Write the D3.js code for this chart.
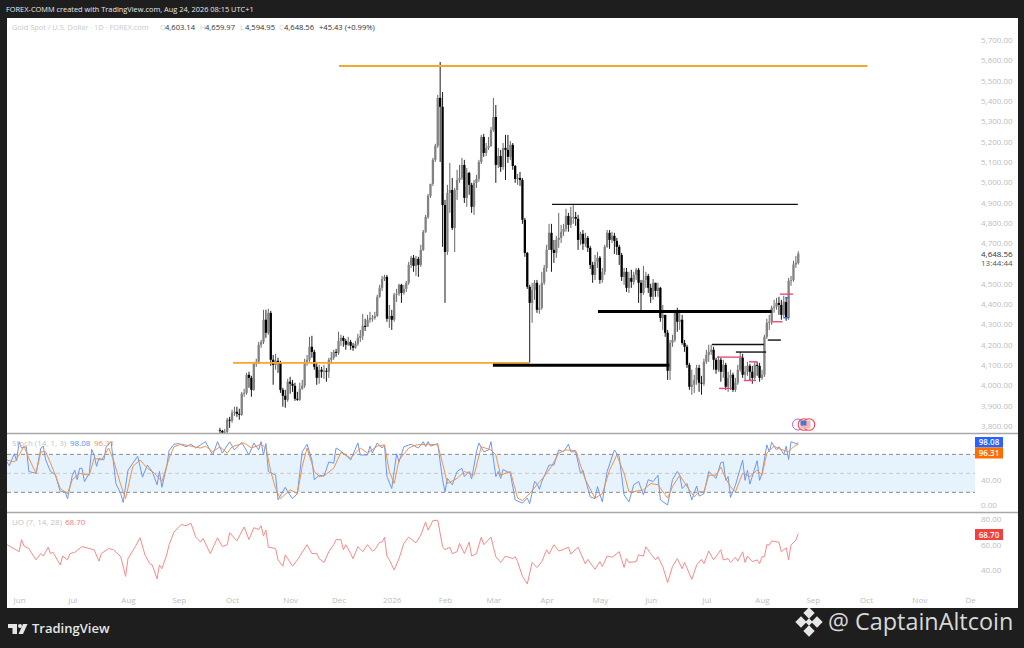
<!DOCTYPE html>
<html><head><meta charset="utf-8">
<script src="https://cdn.jsdelivr.net/npm/d3@7"></script>
<style>html,body{margin:0;padding:0;background:#1e1e1e}svg{display:block}text{font-family:"Open Sans",sans-serif}</style>
</head><body><svg id="c" width="1024" height="648"></svg>
<script>
// ---------- Candles: one entry per daily bar ----------
const closes=[3776,3767,3772,3831,3826,3865,3870,3860,3855,3959,
3963,4052,4037,3978,4106,4116,4200,4214,4323,4259,
4357,4126,4101,4121,4111,3978,3949,3929,4018,4008,
3998,3934,3929,3983,3998,4116,4126,4190,4165,4091,
4037,4077,4067,4072,4067,4126,4136,4165,4160,4219,
4234,4219,4200,4214,4195,4185,4205,4234,4244,4293,
4288,4323,4332,4332,4342,4436,4480,4524,4534,4328,
4342,4323,4446,4451,4495,4455,4475,4505,4593,4628,
4588,4623,4593,4667,4756,4829,4933,4992,5110,5179,
5415,5371,4888,4657,4947,4962,4775,4962,5011,5021,
5085,4923,5046,4987,4879,4997,5016,5100,5223,5144,
5169,5179,5257,5321,5085,5129,5075,5169,5159,5125,
5184,5080,5016,5021,5011,4815,4652,4485,4406,4470,
4505,4372,4382,4505,4578,4667,4751,4667,4652,4716,
4726,4756,4770,4834,4790,4829,4829,4820,4716,4746,
4697,4726,4677,4593,4544,4608,4628,4519,4559,4682,
4751,4716,4736,4711,4682,4642,4534,4559,4480,4529,
4510,4544,4569,4505,4455,4519,4539,4480,4436,4505,
4465,4480,4332,4347,4259,4072,4209,4224,4357,4313,
4323,4209,4190,4101,3993,4003,4027,4086,4013,4008,
4116,4150,4165,4175,4126,4077,4126,4067,4101,3993,
4037,4052,3978,4013,4077,4136,4052,4067,4096,4067,
4037,4101,4096,4037,4052,4239,4308,4313,4382,4387,
4406,4396,4347,4411,4332,4515,4519,4595,4603.14,4648.56];
const highs=[3791,3781,3786,3840,3845,3880,3895,3895,3885,3968,
3983,4062,4067,4047,4116,4131,4214,4224,4372,4372,
4377,4367,4150,4155,4136,4121,3988,3978,4032,4042,
4027,4013,3968,4013,4027,4131,4150,4239,4244,4175,
4116,4101,4091,4101,4086,4136,4165,4175,4180,4264,
4249,4244,4229,4239,4224,4209,4219,4254,4273,4352,
4328,4347,4362,4347,4362,4446,4495,4539,4544,4544,
4396,4372,4455,4475,4500,4500,4495,4514,4608,4637,
4642,4637,4633,4692,4765,4839,4942,4992,5120,5189,
5430,5592,5444,4913,4987,5095,5021,4972,5061,5085,
5120,5110,5070,5051,4997,5011,5036,5110,5233,5238,
5193,5223,5272,5415,5380,5169,5159,5193,5233,5233,
5203,5193,5085,5041,5051,5021,4824,4657,4495,4505,
4519,4519,4495,4559,4593,4692,4795,4795,4716,4736,
4849,4790,4795,4869,4849,4879,4888,4854,4839,4756,
4765,4751,4736,4687,4608,4642,4657,4637,4578,4692,
4765,4765,4756,4751,4726,4692,4652,4578,4578,4559,
4569,4559,4578,4578,4519,4588,4559,4549,4500,4524,
4500,4505,4485,4396,4347,4273,4224,4249,4372,4382,
4372,4347,4224,4200,4111,4077,4052,4101,4101,4047,
4131,4175,4200,4200,4190,4136,4145,4136,4126,4111,
4067,4077,4062,4037,4101,4165,4155,4096,4116,4106,
4096,4116,4116,4111,4077,4249,4328,4347,4392,4421,
4431,4436,4421,4441,4431,4529,4539,4613,4637,4659.97];
const lows=[3752,3742,3747,3762,3791,3816,3850,3845,3831,3850,
3944,3954,3988,3944,3973,4091,4106,4185,4204,4234,
4249,4096,4003,4077,4062,3963,3895,3890,3919,3959,
3968,3924,3924,3924,3978,3988,4096,4116,4136,4077,
4003,4008,4037,4032,4018,4037,4106,4126,4141,4150,
4195,4190,4175,4195,4175,4170,4180,4195,4214,4224,
4268,4288,4308,4313,4323,4337,4431,4465,4514,4313,
4283,4273,4313,4411,4441,4406,4446,4460,4495,4578,
4559,4539,4534,4583,4662,4751,4820,4923,4982,5100,
5169,5100,4682,4406,4642,4849,4765,4657,4913,4997,
5011,4898,4879,4938,4849,4839,4972,5002,5090,5125,
5129,5159,5174,5248,4997,5070,5051,5061,5011,5095,
5110,5061,4997,4987,4982,4795,4633,4475,4111,4308,
4421,4357,4352,4372,4495,4559,4667,4559,4603,4628,
4677,4701,4736,4756,4756,4775,4795,4785,4667,4692,
4667,4682,4657,4573,4505,4519,4578,4500,4505,4544,
4677,4672,4701,4647,4642,4593,4514,4495,4460,4455,
4480,4495,4519,4406,4362,4446,4480,4455,4406,4421,
4436,4436,4313,4273,4239,4027,4027,4190,4214,4264,
4273,4200,4165,4086,3978,3954,3963,4003,3968,3954,
3998,4106,4116,4150,4077,4057,4067,4018,4037,3978,
3968,3978,3968,3968,4003,4067,4037,4027,4047,4022,
4008,4027,4047,4018,4027,4042,4229,4273,4298,4357,
4372,4347,4323,4337,4318,4323,4490,4510,4578,4594.95];
const firstOpen=3780, lastOpen=4603.14, firstCandleBar=88, lastBar=327;

// ---------- Indicator vertices: [bar, value] ----------
const stochK=[[0,68],[1,62],[3,81],[4,70],[5,100],[6,90],[8,92],[9,53],[12,50],[14,90],[15,93],[16,71],[18,53],[20,48],[22,21],[24,21],[25,10],[27,47],[28,55],[29,40],[30,58],[31,58],[32,37],[34,50],[35,88],[36,79],[37,61],[38,74],[40,71],[41,92],[43,100],[45,34],[47,18],[48,4],[50,55],[52,66],[54,77],[56,44],[58,63],[60,53],[62,32],[63,53],[64,28],[66,61],[67,86],[69,96],[71,97],[74,92],[76,96],[78,90],[82,100],[85,79],[87,100],[89,82],[92,100],[94,87],[97,99],[100,79],[102,98],[104,87],[105,100],[106,79],[107,97],[108,53],[111,47],[112,8],[115,28],[116,21],[118,10],[120,18],[122,84],[124,96],[126,71],[127,40],[129,47],[131,46],[133,68],[135,66],[136,90],[138,85],[140,79],[142,71],[145,98],[146,79],[149,79],[150,93],[151,82],[153,98],[155,90],[156,95],[157,45],[159,26],[161,81],[162,68],[164,92],[167,96],[170,90],[172,100],[173,92],[174,100],[175,93],[178,97],[180,40],[181,21],[182,42],[184,32],[186,53],[188,58],[189,45],[191,53],[192,41],[194,84],[195,98],[197,84],[199,87],[200,100],[202,45],[203,53],[204,42],[205,56],[208,50],[210,8],[213,3],[215,11],[216,2],[218,37],[219,34],[220,25],[221,37],[224,63],[226,63],[228,87],[230,84],[232,96],[233,84],[235,84],[237,50],[238,55],[241,13],[243,10],[244,29],[246,5],[248,53],[251,87],[253,76],[255,16],[257,5],[259,32],[261,37],[263,16],[265,40],[267,37],[269,47],[270,8],[273,0],[275,40],[277,53],[278,47],[279,26],[281,34],[283,8],[285,30],[286,14],[288,18],[290,53],[293,42],[295,67],[296,68],[297,39],[298,45],[299,12],[301,31],[304,71],[305,39],[306,55],[307,33],[310,70],[311,39],[312,50],[314,95],[315,84],[316,99],[318,87],[319,92],[321,80],[322,93],[323,72],[324,100],[326,97],[327,98.08]];
const stochD=[[0,71],[3,68],[5,79],[7,93],[9,74],[12,50],[14,84],[16,84],[18,66],[20,47],[22,26],[25,18],[27,40],[30,50],[34,47],[36,74],[39,71],[42,90],[44,71],[47,32],[49,10],[52,61],[55,71],[58,58],[61,50],[64,37],[67,74],[69,92],[72,96],[76,93],[80,90],[82,93],[85,84],[88,92],[91,82],[93,92],[98,98],[101,90],[105,96],[107,90],[109,53],[111,26],[113,10],[117,24],[120,18],[122,61],[124,90],[127,53],[129,45],[131,46],[135,58],[138,83],[142,74],[144,82],[146,90],[149,82],[153,93],[156,95],[158,53],[160,34],[162,71],[166,90],[169,95],[174,96],[178,95],[180,66],[182,34],[186,42],[189,53],[193,47],[196,92],[200,87],[202,79],[204,47],[208,53],[211,11],[213,7],[216,18],[219,32],[222,45],[225,61],[228,82],[231,87],[235,86],[239,40],[243,11],[246,18],[249,55],[252,79],[255,50],[257,21],[259,21],[263,24],[266,34],[269,32],[273,11],[275,29],[278,47],[281,29],[284,13],[286,21],[288,21],[290,47],[293,47],[295,60],[297,42],[299,29],[301,21],[304,50],[307,45],[310,55],[312,47],[314,82],[317,93],[319,89],[323,84],[325,92],[327,96.31]];
const uo=[[0,60],[5,54.5],[6,64],[7,59],[9,57],[11,51],[12,48],[14,53],[15,51],[17,58],[18,53],[19,54],[22,44],[23,51],[25,48],[26,53],[28,54],[31,58.5],[36,56],[38,47],[39,53],[42,57],[44,56],[47,50.5],[49,35],[50,49],[53,58.5],[55,65.5],[57,52],[59,45],[60,44],[62,33],[63,44],[64,41],[66,52],[67,60],[69,70],[72,76],[74,75],[76,77],[78,66],[80,62],[81,65],[84,53],[87,65.5],[89,58.5],[91,60],[92,69.5],[95,63],[98,74],[100,64],[102,73.4],[104,72],[105,75],[106,67],[107,71.5],[108,58],[111,57],[112,48],[114,43],[115,52],[116,49],[118,43],[120,48],[124,60],[126,53],[128,53],[129,49],[131,46],[133,54.5],[135,60],[136,64],[138,64],[139,56],[140,60],[142,53],[143,49],[145,58.5],[147,54.5],[149,60],[151,55],[152,56],[154,62],[155,62],[156,66],[157,51],[158,48],[160,40],[162,49],[164,61],[166,66],[169,61.5],[171,67.6],[173,78],[174,71.5],[176,79],[178,79.4],[180,58.5],[181,56],[183,58],[184,53],[186,54.5],[187,61],[189,53],[191,62],[192,51],[194,53],[196,66],[197,60],[200,66],[202,50.5],[204,46],[206,51],[209,49],[210,50.5],[211,46.6],[213,35],[215,29],[217,46],[219,42],[221,46.6],[223,56],[224,52.6],[226,60],[228,55],[230,56.3],[232,58],[233,52.6],[236,58],[239,44.8],[240,48.4],[243,40.6],[245,46.6],[246,42.7],[248,51],[250,50],[253,54.5],[255,42],[256,49],[257,46],[260,46.6],[261,52],[263,51],[264,58.4],[266,53],[268,48],[269,50.5],[271,42.7],[273,30],[275,42.7],[277,49],[278,45],[279,41],[280,46],[283,32.6],[285,44],[287,48.4],[288,45],[290,55],[292,48],[295,56],[296,48],[298,49],[299,46],[301,50],[302,47],[304,54.4],[305,46],[306,51],[308,46.6],[310,48],[311,45],[312,50.5],[313,50.5],[314,60],[315,59.7],[316,63],[319,62],[320,54.4],[322,57.6],[323,48],[324,59.7],[326,63.6],[327,68.7]];

// ---------- Axis labels ----------
const priceTicks=[5700,5600,5500,5400,5300,5200,5100,5000,4900,4800,4700,4500,4400,4300,4200,4100,4000,3900,3800];
const stochTicks=[40,0];
const uoTicks=[80,60,40];
const timeBars=[5,27,50,71,93,117,137,159,181,201,223,245,266,289,312,333,355,377,398];
const timeLabels=["Jun","Jul","Aug","Sep","Oct","Nov","Dec","2026","Feb","Mar","Apr","May","Jun","Jul","Aug","Sep","Oct","Nov","De"];

// ---------- Drawn levels: [fromBar, toBar, price] ----------
const orangeLevels=[[137.2,355.5,5572],[93.4,216,4111]];
const blackThick=[[200.8,273.7,4099],[244.2,316,4364]];
const blackThin=[[225.2,326.8,4891],[291.3,312.8,4201],[301.2,313.7,4164],[314.4,319.8,4223]];
const pinkLevels=[[293.4,303.8,4139],[294.2,299.6,3985],[306.6,310,4116],[304.5,309.5,4024],[316,320.5,4313],[319.4,324.8,4449]];
const blueLevels=[[321.5,323,4431],[320.8,323,4333]];

// ---------- Scales ----------
const svg=d3.select("#c");
const x=d3.scaleLinear().domain([0,lastBar]).range([7,798.3]);
const yP=d3.scaleLinear().domain([3800,5700]).range([426,40]);
const yS=d3.scaleLinear().domain([0,100]).range([505,441.7]);
const yU=d3.scaleLinear().domain([40,80]).range([570,519.4]);
const gray="#bdbdbd", font="8px";

svg.append("rect").attr("width",1024).attr("height",648).attr("fill","#1e1e1e");
svg.append("rect").attr("x",7).attr("y",18).attr("width",1011).attr("height",590).attr("fill","#fff");
svg.append("defs").append("clipPath").attr("id","pp").append("rect").attr("x",7).attr("y",18).attr("width",968).attr("height",415);

// ---------- Candles ----------
const candles=closes.map((c,i)=>{const o=i===0?firstOpen:(i===closes.length-1?lastOpen:closes[i-1]);
  return {b:i+firstCandleBar,o,c,h:Math.max(highs[i],o,c),l:Math.min(lows[i],o,c)};});
const cg=svg.append("g").attr("clip-path","url(#pp)");
const col=d=>d.c>=d.o?"#828282":"#000";
cg.selectAll("line.w").data(candles).join("line").attr("class","w")
  .attr("x1",d=>x(d.b)).attr("x2",d=>x(d.b)).attr("y1",d=>yP(d.h)).attr("y2",d=>yP(d.l))
  .attr("stroke",d=>d.c>=d.o?"#666":"#1a1a1a").attr("stroke-width",1);
cg.selectAll("rect.b").data(candles).join("rect").attr("class","b")
  .attr("x",d=>x(d.b)-1.15).attr("width",2.3)
  .attr("y",d=>Math.min(yP(d.o),yP(d.c))).attr("height",d=>Math.max(.8,Math.abs(yP(d.o)-yP(d.c))))
  .attr("fill",col);

// ---------- Levels ----------
function levels(data,color,w){
  cg.selectAll(null).data(data).join("line").attr("x1",d=>x(d[0])).attr("x2",d=>x(d[1]))
    .attr("y1",d=>yP(d[2])).attr("y2",d=>yP(d[2])).attr("stroke",color).attr("stroke-width",w);
}
levels(orangeLevels,"#f7a72b",1.8);
levels(blackThick,"#000",3);
levels(blackThin,"#111",1.4);
levels(pinkLevels,"#ec4a72",1.4);
levels(blueLevels,"#2962ff",1.4);

// ---------- Event icons ----------
const ev=svg.append("g");
ev.append("circle").attr("cx",798).attr("cy",424.5).attr("r",5.5).attr("fill","#fff").attr("stroke","#b45fd6").attr("stroke-width",1);
[804,809].forEach(cx=>ev.append("circle").attr("cx",cx).attr("cy",424.5).attr("r",5.8).attr("fill","#fff").attr("stroke","#f0424d").attr("stroke-width",1.1));
ev.append("rect").attr("x",800.5).attr("y",420.5).attr("width",10).attr("height",8).attr("fill","#f6b3b8");
ev.append("rect").attr("x",800.5).attr("y",420.5).attr("width",6).attr("height",5).attr("fill","#4a78c8");

// ---------- Panes ----------
svg.append("rect").attr("x",7).attr("width",968).attr("y",yS(80)).attr("height",yS(20)-yS(80)).attr("fill","#e6f3fd");
[[80,"#8a8a8a"],[50,"#c9c9c9"],[20,"#8a8a8a"]].forEach(([v,s])=>svg.append("line").attr("x1",7).attr("x2",975).attr("y1",yS(v)).attr("y2",yS(v)).attr("stroke",s).attr("stroke-dasharray","4 3").attr("stroke-width",1));
[433.5,512.5].forEach(y=>svg.append("line").attr("x1",7).attr("x2",1018).attr("y1",y).attr("y2",y).attr("stroke","#a8a8a8").attr("stroke-width",1.4));
const line=(yy)=>d3.line().x(d=>x(d[0])).y(d=>yy(d[1]));
svg.append("path").attr("d",line(yS)(stochK)).attr("fill","none").attr("stroke","#6c97f6").attr("stroke-width",1);
svg.append("path").attr("d",line(yS)(stochD)).attr("fill","none").attr("stroke","#f2924a").attr("stroke-width",1);
svg.append("path").attr("d",line(yU)(uo)).attr("fill","none").attr("stroke","#f78a8a").attr("stroke-width",1);

// ---------- Axes ----------
function styleAxis(g){g.select(".domain").remove();g.selectAll(".tick line").remove();
  g.selectAll("text").attr("fill",gray).style("font-size",font).style("font-family",'"Open Sans",sans-serif');}
const fmt=d3.format(",.2f");
svg.append("g").attr("transform","translate(981,0)").call(d3.axisRight(yP).tickValues(priceTicks).tickFormat(fmt).tickSize(0).tickPadding(0)).call(styleAxis);
svg.append("g").attr("transform","translate(981,0)").call(d3.axisRight(yS).tickValues(stochTicks).tickFormat(fmt).tickSize(0).tickPadding(0)).call(styleAxis);
svg.append("g").attr("transform","translate(981,0)").call(d3.axisRight(yU).tickValues(uoTicks).tickFormat(fmt).tickSize(0).tickPadding(0)).call(styleAxis);
svg.append("g").attr("transform","translate(0,597)").call(d3.axisBottom(x).tickValues(timeBars).tickFormat((d,i)=>timeLabels[i]).tickSize(0).tickPadding(0)).call(styleAxis);

// ---------- Text ----------
function t(s,xx,yy,c,sz,w,a){return svg.append("text").attr("x",xx).attr("y",yy).attr("fill",c).style("font-size",(sz||8)+"px").style("font-weight",w||400).attr("text-anchor",a||"start").text(s);}
t("FOREX-COMM created with TradingView.com, Aug 24, 2026 08:15 UTC+1",6,12,"#e8e8e8",7.4);
t("Gold Spot / U.S. Dollar · 1D · FOREX.com",12,30,"#c9c9c9",7.4);
[["O","4,603.14",160],["H","4,659.97",200],["L","4,594.95",240],["C","4,648.56",279]].forEach(([k,v,xx])=>{t(k,xx,30,"#d0d0d0",7.6);t(v,xx+5,30,"#333",7.6);});
t("+45.43 (+0.99%)",319,30,"#333",7.6);
t("4,648.56",981,257,"#333",8);
t("13:44:44",981,266,"#555",8);
t("Stoch (14, 1, 3)",12,446,"#c4c4c4",8);t("98.08",70,446,"#5b8cf5",8);t("96.31",94,446,"#f2924a",8);
t("UO (7, 14, 28)",12,525,"#c4c4c4",8);t("68.70",65,525,"#f47c7c",8);
[[437,10.5,"#2962ff","98.08"],[447.5,11,"#ff6d00","96.31"],[529,11,"#f23f3f","68.70"]].forEach(([y,h,c,s])=>{
  svg.append("rect").attr("x",975).attr("y",y).attr("width",28).attr("height",h).attr("fill",c);
  t(s,989,y+h/2+3,"#fff",8,600,"middle");});

// ---------- Footer ----------
const f=svg.append("g").attr("fill","#e6e6e6");
f.append("path").attr("d","M8 624h9v10h-4.5v-6H8z");
f.append("circle").attr("cx",20).attr("cy",626).attr("r",2);
f.append("path").attr("d","M23 624h4.5l-4.5 10h-4.5z");
t("TradingView",32,633,"#e6e6e6",13,600);
[[809,613,4],[801,622,4],[817,622,4],[809,631,4],[809,622,2.6]].forEach(([cx,cy,r])=>{
  f.append("rect").attr("x",cx-r).attr("y",cy-r).attr("width",2*r).attr("height",2*r).attr("transform",`rotate(45 ${cx} ${cy})`);});
t("@ CaptainAltcoin",828,630,"#d8d8d8",23.4,400);
</script></body></html>
